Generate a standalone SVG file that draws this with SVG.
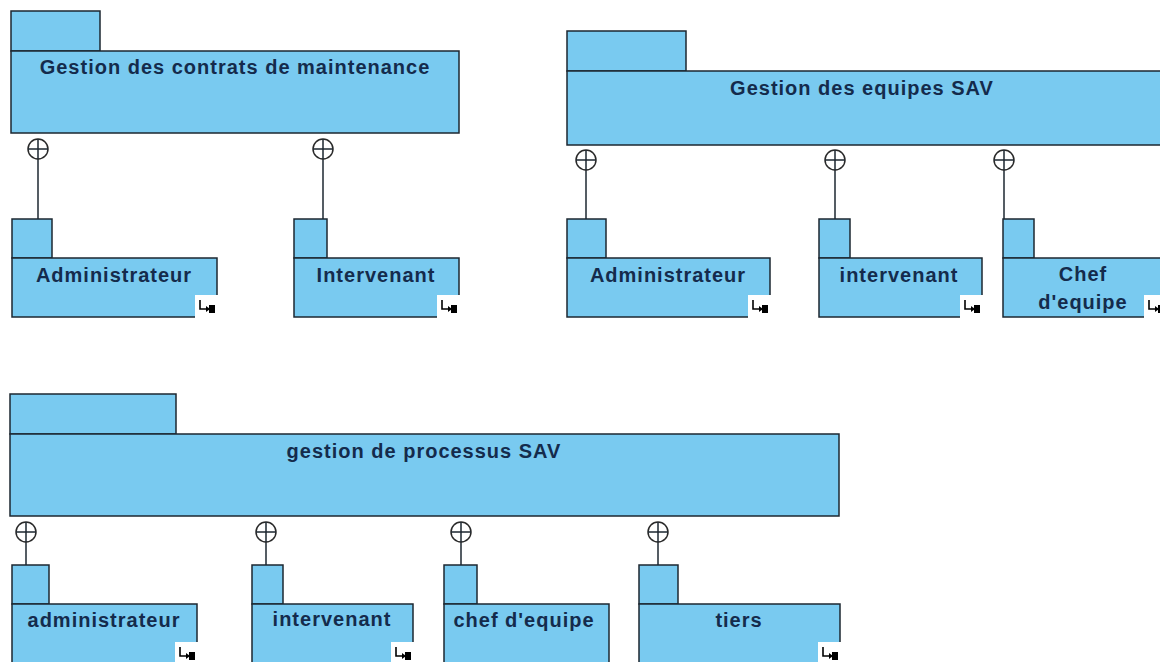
<svg xmlns="http://www.w3.org/2000/svg" xmlns:xlink="http://www.w3.org/1999/xlink" width="1160" height="662" viewBox="0 0 1160 662">
  <style>
    .pkg { fill: #79caf0; stroke: #1d2731; stroke-width: 1.5; }
    .label { font-family: "Liberation Sans", Arial, sans-serif; font-weight: bold; font-size: 20px; letter-spacing: 1px; fill: #142b4c; text-anchor: middle; }
    .conn { stroke: #1d2731; stroke-width: 1.5; fill: none; }
    .nest { stroke: #2a2a2a; stroke-width: 1.5; fill: #ffffff; }
  </style>
  <defs>
    <!-- sub-diagram marker shown in the lower right corner of a package -->
    <symbol id="subdiagram" viewBox="0 0 23 23" width="23" height="23" overflow="visible">
      <rect x="0" y="0" width="23" height="23" fill="#ffffff"/>
      <path d="M5 5 V14 H12" fill="none" stroke="#000" stroke-width="1.6"/>
      <polygon points="11,11 15,14 11,17" fill="#000"/>
      <rect x="14" y="10" width="6" height="8" fill="#000"/>
    </symbol>
    <!-- containment (nesting) end: circle with a cross -->
    <symbol id="plus-circle" viewBox="-11 -11 22 22" width="22" height="22" overflow="visible">
      <circle cx="0" cy="0" r="10" class="nest"/>
      <path d="M-10 0 H10 M0 -10 V10" class="conn"/>
    </symbol>
  </defs>

  <rect width="1160" height="662" fill="#ffffff"/>

  <!-- containment connectors -->
  <g id="connectors">
    <line class="conn" x1="38" y1="159" x2="38" y2="219"/>
    <use xlink:href="#plus-circle" x="27" y="138"/>
    <line class="conn" x1="323" y1="159" x2="323" y2="219"/>
    <use xlink:href="#plus-circle" x="312" y="138"/>

    <line class="conn" x1="586" y1="170" x2="586" y2="219"/>
    <use xlink:href="#plus-circle" x="575" y="149"/>
    <line class="conn" x1="835" y1="170" x2="835" y2="219"/>
    <use xlink:href="#plus-circle" x="824" y="149"/>
    <line class="conn" x1="1004" y1="170" x2="1004" y2="219"/>
    <use xlink:href="#plus-circle" x="993" y="149"/>

    <line class="conn" x1="26" y1="542" x2="26" y2="565"/>
    <use xlink:href="#plus-circle" x="15" y="521"/>
    <line class="conn" x1="266" y1="542" x2="266" y2="565"/>
    <use xlink:href="#plus-circle" x="255" y="521"/>
    <line class="conn" x1="461" y1="542" x2="461" y2="565"/>
    <use xlink:href="#plus-circle" x="450" y="521"/>
    <line class="conn" x1="658" y1="542" x2="658" y2="565"/>
    <use xlink:href="#plus-circle" x="647" y="521"/>
  </g>

  <!-- Gestion des contrats de maintenance -->
  <g id="pkg-contrats">
    <rect class="pkg" x="11" y="11" width="89" height="40"/>
    <rect class="pkg" x="11" y="51" width="448" height="82"/>
    <text class="label" x="235" y="74">Gestion des contrats de maintenance</text>
  </g>
  <g id="pkg-contrats-administrateur">
    <rect class="pkg" x="12" y="219" width="40" height="39"/>
    <rect class="pkg" x="12" y="258" width="205" height="59"/>
    <text class="label" x="114" y="282">Administrateur</text>
    <use xlink:href="#subdiagram" x="195" y="295"/>
  </g>
  <g id="pkg-contrats-intervenant">
    <rect class="pkg" x="294" y="219" width="33" height="39"/>
    <rect class="pkg" x="294" y="258" width="165" height="59"/>
    <text class="label" x="376" y="282">Intervenant</text>
    <use xlink:href="#subdiagram" x="437" y="295"/>
  </g>

  <!-- Gestion des equipes SAV -->
  <g id="pkg-equipes">
    <rect class="pkg" x="567" y="31" width="119" height="40"/>
    <rect class="pkg" x="567" y="71" width="596" height="74"/>
    <text class="label" x="862" y="95">Gestion des equipes SAV</text>
  </g>
  <g id="pkg-equipes-administrateur">
    <rect class="pkg" x="567" y="219" width="39" height="39"/>
    <rect class="pkg" x="567" y="258" width="203" height="59"/>
    <text class="label" x="668" y="282">Administrateur</text>
    <use xlink:href="#subdiagram" x="748" y="295"/>
  </g>
  <g id="pkg-equipes-intervenant">
    <rect class="pkg" x="819" y="219" width="31" height="39"/>
    <rect class="pkg" x="819" y="258" width="163" height="59"/>
    <text class="label" x="899" y="282">intervenant</text>
    <use xlink:href="#subdiagram" x="960" y="295"/>
  </g>
  <g id="pkg-equipes-chef">
    <rect class="pkg" x="1003" y="219" width="31" height="39"/>
    <rect class="pkg" x="1003" y="258" width="163" height="59"/>
    <text class="label" x="1083" y="281">Chef</text>
    <text class="label" x="1083" y="309">d'equipe</text>
    <use xlink:href="#subdiagram" x="1144" y="295"/>
  </g>

  <!-- gestion de processus SAV -->
  <g id="pkg-processus">
    <rect class="pkg" x="10" y="394" width="166" height="40"/>
    <rect class="pkg" x="10" y="434" width="829" height="82"/>
    <text class="label" x="424" y="458">gestion de processus SAV</text>
  </g>
  <g id="pkg-processus-administrateur">
    <rect class="pkg" x="12" y="565" width="37" height="39"/>
    <rect class="pkg" x="12" y="604" width="185" height="66"/>
    <text class="label" x="104" y="627">administrateur</text>
    <use xlink:href="#subdiagram" x="175" y="642"/>
  </g>
  <g id="pkg-processus-intervenant">
    <rect class="pkg" x="252" y="565" width="31" height="39"/>
    <rect class="pkg" x="252" y="604" width="161" height="66"/>
    <text class="label" x="332" y="626">intervenant</text>
    <use xlink:href="#subdiagram" x="391" y="642"/>
  </g>
  <g id="pkg-processus-chef">
    <rect class="pkg" x="444" y="565" width="33" height="39"/>
    <rect class="pkg" x="444" y="604" width="165" height="66"/>
    <text class="label" x="524" y="627">chef d'equipe</text>
  </g>
  <g id="pkg-processus-tiers">
    <rect class="pkg" x="639" y="565" width="39" height="39"/>
    <rect class="pkg" x="639" y="604" width="201" height="66"/>
    <text class="label" x="739" y="627">tiers</text>
    <use xlink:href="#subdiagram" x="818" y="642"/>
  </g>
</svg>
